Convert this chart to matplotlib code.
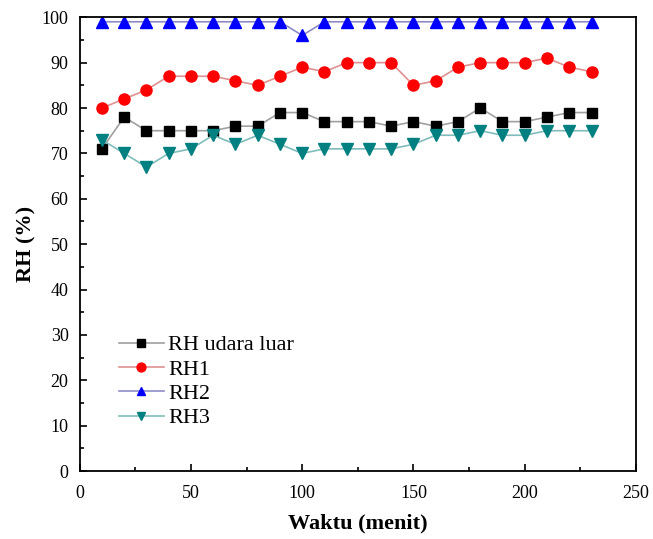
import numpy as np
import matplotlib.pyplot as plt

plt.rcParams['font.family'] = ['Liberation Serif', 'DejaVu Serif']

waktu = list(range(10, 240, 10))
rh_luar = [71, 78, 75, 75, 75, 75, 76, 76, 79, 79, 77, 77, 77, 76, 77, 76, 77, 80, 77, 77, 78, 79, 79]
rh1 = [80, 82, 84, 87, 87, 87, 86, 85, 87, 89, 88, 90, 90, 90, 85, 86, 89, 90, 90, 90, 91, 89, 88]
rh2 = [99, 99, 99, 99, 99, 99, 99, 99, 99, 96, 99, 99, 99, 99, 99, 99, 99, 99, 99, 99, 99, 99, 99]
rh3 = [73, 70, 67, 70, 71, 74, 72, 74, 72, 70, 71, 71, 71, 71, 72, 74, 74, 75, 74, 74, 75, 75, 75]

fig = plt.figure(figsize=(6.53, 5.39), dpi=100)
ax = fig.add_axes([0.122, 0.126, 0.852, 0.842])

series = [
    (rh_luar, 'RH udara luar', 's', 'black', '#a0a0a0', 7),
    (rh1, 'RH1', 'o', '#ff0000', '#e09090', 8),
    (rh2, 'RH2', '^', '#0000ff', '#8c8cc8', 8),
    (rh3, 'RH3', 'v', '#008080', '#80bcbc', 8),
]
for vals, lab, mk, mc, lc, ms in series:
    ax.plot(waktu, vals, color=lc, lw=1.2, marker=mk, ms=ms,
            markerfacecolor=mc, markeredgecolor=mc, label=lab)

ax.set_xlim(0, 250)
ax.set_ylim(0, 100)
ax.set_xticks(np.arange(0, 251, 50))
ax.set_xticks(np.arange(0, 251, 25), minor=True)
ax.set_yticks(np.arange(0, 101, 10))
ax.set_yticks(np.arange(0, 101, 5), minor=True)
ax.tick_params(which='both', direction='in', top=False, right=False,
               labelsize=13, width=1.2)
ax.tick_params(which='major', length=5)
ax.tick_params(which='minor', length=3)
ax.tick_params(axis='x', which='major', pad=10)
ax.tick_params(axis='y', which='major', pad=8)
for sp in ax.spines.values():
    sp.set_linewidth(1.3)

ax.set_xlabel('Waktu (menit)', fontsize=16, fontweight='bold', labelpad=8)
ax.set_ylabel('RH (%)', fontsize=16, fontweight='bold', labelpad=4)

ax.legend(loc='upper left', bbox_to_anchor=(0.055, 0.32), frameon=False,
          fontsize=16, handlelength=2.0, labelspacing=0.17, handletextpad=0.2,
          borderaxespad=0, markerscale=0.8)

fig.savefig('out.png', dpi=100)
